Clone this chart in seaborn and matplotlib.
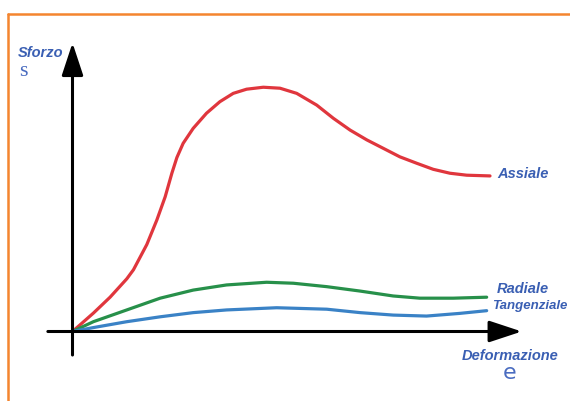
"""
Stress-strain diagram (Sforzo / Deformazione) with axial, radial and tangential curves.
"""
import numpy as np
import pandas as pd
import matplotlib
matplotlib.use("Agg")
import matplotlib.pyplot as plt
import seaborn as sns

# values (strain 0..10, stress as % of the axial peak)
assiale_x = [0, 0.50, 0.90, 1.30, 1.46, 1.78, 2.02, 2.22, 2.38, 2.50, 2.65, 2.89, 3.21,
             3.53, 3.85, 4.17, 4.57, 4.97, 5.37, 5.85, 6.25, 6.65, 7.05, 7.44, 7.84,
             8.24, 8.64, 9.04, 9.44, 10.0]
assiale_y = [0, 7.5, 14.0, 21.5, 25.2, 35.5, 45.5, 55.0, 64.6, 71.0, 76.8, 82.9, 89.1,
             93.8, 97.2, 98.9, 99.7, 99.3, 97.2, 92.4, 87.0, 82.2, 78.2, 74.8, 71.3,
             68.7, 66.2, 64.6, 63.8, 63.5]

radiale_x = [0, 0.50, 1.30, 2.10, 2.89, 3.69, 4.65, 5.29, 6.09, 6.89, 7.68, 8.32, 9.12, 9.92]
radiale_y = [0, 4.0, 8.8, 13.6, 16.9, 19.0, 20.1, 19.7, 18.3, 16.5, 14.5, 13.6, 13.6, 14.0]

tangenziale_x = [0, 0.50, 1.30, 2.10, 2.89, 3.69, 4.89, 6.09, 6.89, 7.68, 8.48, 9.28, 9.92]
tangenziale_y = [0, 1.6, 4.0, 6.0, 7.7, 8.8, 9.7, 9.1, 7.7, 6.7, 6.3, 7.4, 8.5]

curve_names = ["Assiale", "Radiale", "Tangenziale"]
curve_colors = {"Assiale": "#e0363d", "Radiale": "#27904a", "Tangenziale": "#3a82c6"}

frames = []
for name, xs, ys in zip(curve_names,
                        [assiale_x, radiale_x, tangenziale_x],
                        [assiale_y, radiale_y, tangenziale_y]):
    frames.append(pd.DataFrame({"strain": xs, "stress": ys, "curve": name}))
df = pd.concat(frames, ignore_index=True)

sns.set_style("white")
plt.rcParams["font.family"] = ["Liberation Sans", "DejaVu Sans"]

fig = plt.figure(figsize=(5.70, 4.01), dpi=100, facecolor="white")
ax = fig.add_axes([0, 0, 1, 1])
ax.set_facecolor("#fdfdfd")

sns.lineplot(data=df, x="strain", y="stress", hue="curve", palette=curve_colors,
             sort=False, linewidth=2.3, legend=False, ax=ax, zorder=3)
for line in ax.get_lines():
    line.set_solid_joinstyle("round")
    line.set_solid_capstyle("round")

# pixel mapping: origin at (72.5, 331.5), 41.75 px per strain unit, 2.45 px per stress unit
ax.set_xlim(-72.5 / 41.75, (570 - 72.5) / 41.75)
ax.set_ylim(-(401 - 331.5) / 2.45, 331.5 / 2.45)
ax.axis("off")

# axes with arrow heads
arrow = dict(arrowstyle="-|>,head_length=1.0,head_width=0.33", mutation_scale=20,
             color="black", lw=2.2, shrinkA=0, shrinkB=0)
ax.annotate("", xy=(0, 117.8), xytext=(0, -9.6), arrowprops=arrow, zorder=4)
ax.annotate("", xy=(10.76, 0), xytext=(-0.59, 0), arrowprops=arrow, zorder=4)

# orange frame (top and left)
ax.plot([8 / 570, 1], [1 - 14 / 401, 1 - 14 / 401], color="#f4852f", lw=1.8,
        transform=ax.transAxes, clip_on=False)
ax.plot([8 / 570, 8 / 570], [0, 1 - 14 / 401], color="#f4852f", lw=1.8,
        transform=ax.transAxes, clip_on=False)
ax.add_patch(plt.Rectangle((0, 1 - 14 / 401), 1, 14 / 401, transform=ax.transAxes,
                           color="white", zorder=0))
ax.add_patch(plt.Rectangle((0, 0), 8 / 570, 1, transform=ax.transAxes,
                           color="white", zorder=0))

label_color = "#3a5fb3"
bold_it = dict(color=label_color, fontweight="bold", fontstyle="italic", fontsize=10.5)

ax.text(10.17, 64.3, "Assiale", ha="left", va="center", **bold_it)
ax.text(10.17, 17.3, "Radiale", ha="left", va="center", **bold_it)
ax.text(10.04, 10.6, "Tangenziale", ha="left", va="center",
        **{**bold_it, "fontsize": 9.5})

ax.text(-1.32, 113.6, "Sforzo", ha="left", va="center", **bold_it)
ax.text(-1.29, 106.0, "s", ha="left", va="center", color="#4a6cc0", fontsize=16,
        family=["Liberation Serif", "DejaVu Serif"])

ax.text(9.32, -9.8, "Deformazione", ha="left", va="center", **bold_it)
ax.text(10.48, -16.8, "e", ha="center", va="center", color="#4a6cc0", fontsize=16,
        family=["DejaVu Sans"])

fig.savefig("out.png", dpi=100, facecolor=fig.get_facecolor())
